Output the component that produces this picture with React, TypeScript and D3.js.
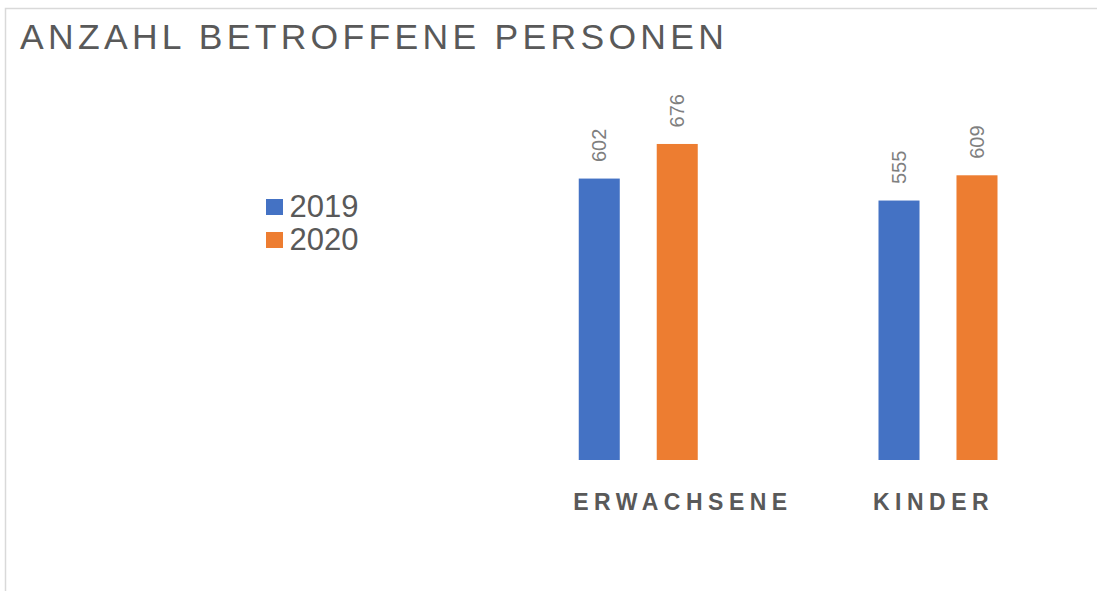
import React from "react";
import * as d3 from "d3";

const categories = ["ERWACHSENE", "KINDER"];
const seriesNames = ["2019", "2020"];
const values2019 = [602, 555];
const values2020 = [676, 609];
const colors = ["#4472C4", "#ED7D31"];

const W = 1097;
const H = 591;

export default function App() {
  const seriesValues = [values2019, values2020];

  // scales
  const x0 = d3.scaleBand<string>().domain(categories).range([488.75, 1088.25]).padding(0);
  const x1 = d3.scaleBand<string>().domain(seriesNames).range([90, 209]).paddingInner(0.474).paddingOuter(0);
  const y = d3.scaleLinear().domain([0, 700]).range([460, 132.75]);

  const bars = categories.flatMap((cat, ci) =>
    seriesNames.map((s, si) => ({ cat, s, si, v: seriesValues[si][ci] }))
  );

  return (
    <svg
      width={W}
      height={H}
      style={{ position: "absolute", left: 0, top: 0, fontFamily: "Arial, 'Liberation Sans', sans-serif" }}
    >
      <rect x={0} y={0} width={W} height={H} fill="#fff" />
      {/* chart frame */}
      <rect x={5.5} y={8.5} width={1200} height={700} fill="none" stroke="#d9d9d9" strokeWidth={1.5} />

      <text x={20} y={48.5} fontSize={35.5} fill="#595959" letterSpacing={4.3}>
        ANZAHL BETROFFENE PERSONEN
      </text>

      {/* legend */}
      {seriesNames.map((s, i) => (
        <g key={s} transform={`translate(266, ${199 + i * 33})`}>
          <rect x={0} y={0} width={17} height={16} fill={colors[i]} />
          <text x={23.5} y={17.5} fontSize={31} fill="#595959">
            {s}
          </text>
        </g>
      ))}

      {/* bars */}
      {bars.map((b) => {
        const bx = (x0(b.cat) ?? 0) + (x1(b.s) ?? 0);
        const bw = x1.bandwidth();
        const top = y(b.v);
        return (
          <g key={b.cat + b.s}>
            <rect x={bx} y={top} width={bw} height={y(0) - top} fill={colors[b.si]} />
            <text
              transform={`translate(${bx + bw / 2 + 7}, ${top - 16.5}) rotate(-90)`}
              fontSize={20}
              fill="#7f7f7f"
            >
              {b.v}
            </text>
          </g>
        );
      })}

      {/* category labels */}
      {categories.map((c) => (
        <text
          key={c}
          x={(x0(c) ?? 0) + 84.5}
          y={510}
          fontSize={23}
          fontWeight="bold"
          letterSpacing={5.5}
          fill="#595959"
        >
          {c}
        </text>
      ))}
    </svg>
  );
}
